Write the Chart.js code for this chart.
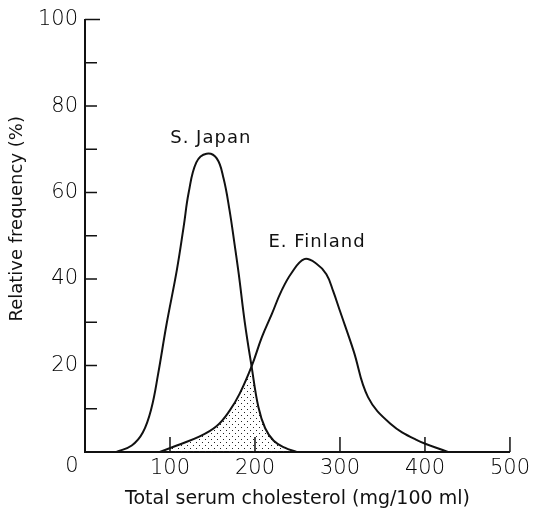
<!DOCTYPE html>
<html>
<head>
<meta charset="utf-8">
<title>Serum cholesterol distribution</title>
<script src="https://cdn.jsdelivr.net/npm/chart.js@4/dist/chart.umd.min.js"></script>
<style>
  body { margin: 0; background: #fff; }
  canvas { display: block; }
</style>
</head>
<body>
<canvas id="chart" width="534" height="514"></canvas>
<script>
// values
const japanX = [37, 55, 68, 78, 86, 96, 108, 116, 122, 131, 143, 155, 163, 170, 176, 181, 188, 196, 204, 212, 222, 235, 249];
const japanY = [0, 1.5, 4.5, 10, 18, 29.6, 42, 52, 60, 67, 69, 67.9, 63.3, 56, 48, 41, 30, 19.8, 10.4, 5.5, 2.6, 1, 0];

const finlandX = [88, 108, 135, 155, 170, 182, 196, 208, 220, 231, 243, 258, 272, 284, 292, 300, 316, 333, 359, 390, 427];
const finlandY = [0, 1.5, 3.6, 6, 9.5, 13.5, 19.8, 26.5, 32, 37.2, 41.4, 44.6, 43.6, 41.1, 37.2, 32.6, 23.4, 12.7, 6.6, 2.8, 0];

// shaded overlap: Finland up to the crossing, then Japan down to zero
const overlapLeftX = [88, 108, 135, 155, 170, 182, 196];
const overlapLeftY = [0, 1.5, 3.6, 6, 9.5, 13.5, 19.8];
const overlapRightX = [196, 204, 212, 222, 235, 249];
const overlapRightY = [19.8, 10.4, 5.5, 2.6, 1, 0];

const xTicks = [0, 100, 200, 300, 400, 500];
const yTicks = [0, 20, 40, 60, 80, 100];

const seriesLabels = ['S. Japan', 'E. Finland'];
const xTitle = 'Total serum cholesterol (mg/100 ml)';
const yTitle = 'Relative frequency (%)';

const FONT = '"DejaVu Sans", sans-serif';

function toPoints(xs, ys) {
  return xs.map((x, i) => ({ x: x, y: ys[i] }));
}

// dotted fill for the overlap area
function dotPattern() {
  const c = document.createElement('canvas');
  c.width = 6;
  c.height = 6;
  const g = c.getContext('2d');
  g.fillStyle = '#222';
  g.fillRect(1, 1, 1, 1);
  g.fillRect(4, 4, 1, 1);
  return g.createPattern(c, 'repeat');
}

// inward tick marks, origin label, y title and curve labels
const extras = {
  id: 'extras',
  afterDraw(chart) {
    const ctx = chart.ctx;
    const xs = chart.scales.x;
    const ys = chart.scales.y;
    const area = chart.chartArea;
    ctx.save();
    ctx.strokeStyle = '#111';
    ctx.lineWidth = 1.5;
    ctx.beginPath();
    for (let v = 10; v <= 100; v += 10) {
      const py = ys.getPixelForValue(v);
      ctx.moveTo(area.left, py);
      ctx.lineTo(area.left + (v === 100 ? 15 : 12), py);
    }
    xTicks.forEach(v => {
      if (v === 0) return;
      const px = xs.getPixelForValue(v);
      ctx.moveTo(px, area.bottom);
      ctx.lineTo(px, area.bottom - 15);
    });
    ctx.stroke();

    ctx.fillStyle = '#000';
    ctx.font = '200 21px ' + FONT;
    ctx.textAlign = 'center';
    ctx.textBaseline = 'middle';
    ctx.fillText('0', xs.getPixelForValue(0) - 13, area.bottom + 15);

    ctx.fillStyle = '#111';
    ctx.font = '18px ' + FONT;
    ctx.textBaseline = 'alphabetic';
    ctx.letterSpacing = '1px';
    ctx.fillText(seriesLabels[0], xs.getPixelForValue(148), ys.getPixelForValue(71.5));
    ctx.fillText(seriesLabels[1], xs.getPixelForValue(273), ys.getPixelForValue(47.5));

    // y axis title
    ctx.letterSpacing = '0px';
    ctx.textBaseline = 'middle';
    ctx.translate(17, (area.top + area.bottom) / 2 - 17);
    ctx.rotate(-Math.PI / 2);
    ctx.fillText(yTitle, 0, 0);
    ctx.restore();
  }
};

const pattern = dotPattern();

const curveStyle = {
  showLine: true,
  borderColor: '#111',
  borderWidth: 2,
  pointRadius: 0,
  tension: 0.4,
  fill: false,
  order: 1
};

const shadeStyle = {
  showLine: true,
  borderWidth: 0,
  borderColor: 'rgba(0,0,0,0)',
  pointRadius: 0,
  tension: 0.4,
  backgroundColor: pattern,
  fill: 'origin',
  order: 2
};

new Chart(document.getElementById('chart'), {
  type: 'scatter',
  data: {
    datasets: [
      Object.assign({ label: seriesLabels[0], data: toPoints(japanX, japanY) }, curveStyle),
      Object.assign({ label: seriesLabels[1], data: toPoints(finlandX, finlandY) }, curveStyle),
      Object.assign({ label: 'overlap left', data: toPoints(overlapLeftX, overlapLeftY) }, shadeStyle),
      Object.assign({ label: 'overlap right', data: toPoints(overlapRightX, overlapRightY) }, shadeStyle)
    ]
  },
  options: {
    responsive: false,
    animation: false,
    layout: { padding: { top: 17, right: 24, left: 0, bottom: 0 } },
    plugins: {
      legend: { display: false },
      tooltip: { enabled: false }
    },
    scales: {
      x: {
        type: 'linear',
        min: 0,
        max: 500,
        afterFit(scale) { scale.height = 62; },
        afterBuildTicks(scale) { scale.ticks = xTicks.map(v => ({ value: v })); },
        grid: { display: false, drawTicks: false },
        border: { display: true, color: '#111', width: 2 },
        ticks: {
          color: '#000',
          padding: 4,
          maxRotation: 0,
          font: { family: FONT, size: 21, weight: '200' },
          callback: v => (v === 0 ? '' : String(v))
        },
        title: {
          display: true,
          text: xTitle,
          color: '#111',
          padding: { top: 0, bottom: 4 },
          font: { family: FONT, size: 19 }
        }
      },
      y: {
        type: 'linear',
        min: 0,
        max: 100,
        afterFit(scale) { scale.width = 85; },
        afterBuildTicks(scale) { scale.ticks = yTicks.map(v => ({ value: v })); },
        grid: { display: false, drawTicks: false },
        border: { display: true, color: '#111', width: 2 },
        ticks: {
          color: '#000',
          padding: 7,
          font: { family: FONT, size: 21, weight: '200' },
          callback: v => (v === 0 ? '' : String(v))
        },
        title: { display: false }
      }
    }
  },
  plugins: [extras]
});
</script>
</body>
</html>
